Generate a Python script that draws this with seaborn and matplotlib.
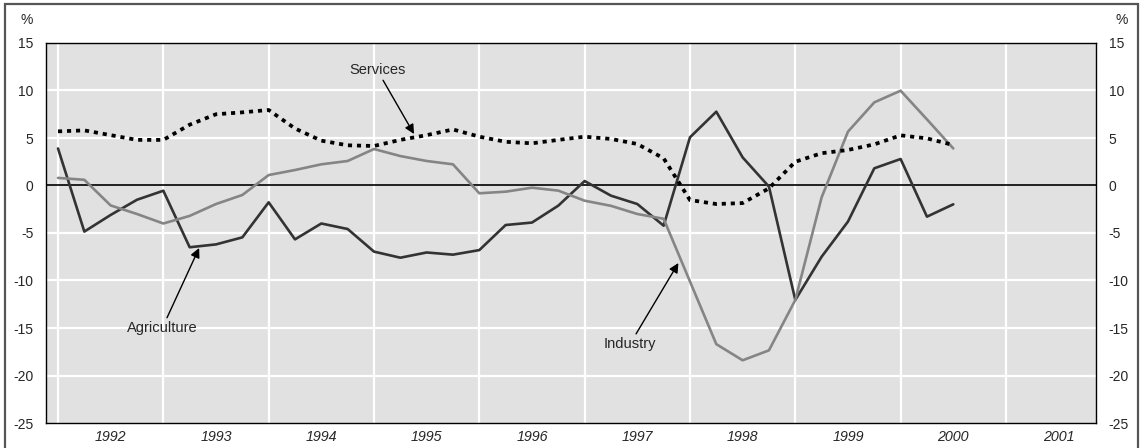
import numpy as np
import pandas as pd
import matplotlib.pyplot as plt
import seaborn as sns
from matplotlib.patches import Rectangle

# quarterly growth, % (1992 Q1 .. 2000 Q3)
start_year = 1992
agriculture = [3.9, -4.85, -3.1, -1.5, -0.55, -6.5, -6.2, -5.46, -1.77, -5.67,
               -4.0, -4.58, -6.96, -7.6, -7.05, -7.28, -6.8, -4.16, -3.9, -2.12,
               0.47, -1.07, -1.95, -4.23, 5.07, 7.77, 2.96, -0.12, -12.05, -7.5,
               -3.8, 1.81, 2.79, -3.28, -1.98]
industry = [0.8, 0.6, -2.1, -3.0, -4.0, -3.2, -1.95, -1.0, 1.1, 1.63,
            2.23, 2.58, 3.84, 3.1, 2.58, 2.23, -0.82, -0.65, -0.23, -0.54,
            -1.6, -2.14, -3.0, -3.5, -10.1, -16.7, -18.4, -17.35, -12.05, -1.25,
            5.67, 8.75, 9.98, 6.96, 3.9]
services = [5.7, 5.8, 5.3, 4.8, 4.8, 6.4, 7.5, 7.7, 7.95, 6.0,
            4.72, 4.23, 4.16, 4.8, 5.3, 5.9, 5.14, 4.6, 4.44, 4.8,
            5.14, 4.9, 4.37, 2.86, -1.53, -1.95, -1.85, -0.3, 2.5, 3.4,
            3.74, 4.33, 5.28, 4.96, 4.26]
years = list(range(1992, 2002))
y_ticks = [15, 10, 5, 0, -5, -10, -15, -20, -25]

n = len(agriculture)
t = start_year + np.arange(n) / 4
df = pd.DataFrame({"t": np.tile(t, 3),
                   "value": agriculture + industry + services,
                   "sector": ["Agriculture"] * n + ["Industry"] * n + ["Services"] * n})

sns.set_style("white", {"axes.facecolor": "#e1e1e1"})
plt.rcParams["font.family"] = ["Liberation Sans", "DejaVu Sans"]

fig = plt.figure(figsize=(11.45, 4.48), dpi=100)
ax = fig.add_axes([46 / 1145, 25 / 448, 1050 / 1145, 380 / 448])

# grid
for yv in y_ticks[1:-1]:
    if yv != 0:
        ax.axhline(yv, color="white", lw=1.6, zorder=1)
for yr in years:
    ax.axvline(yr, color="white", lw=1.6, zorder=1)
ax.axhline(0, color="black", lw=1.2, zorder=2)

pal = {"Agriculture": "#333333", "Industry": "#858585", "Services": "#000000"}
sns.lineplot(data=df[df.sector != "Services"], x="t", y="value", hue="sector",
             palette=pal, lw=1.9, legend=False, ax=ax, zorder=3)
sv = df[df.sector == "Services"]
sns.lineplot(data=sv, x="t", y="value", color="black", lw=2.7,
             linestyle=(0, (1.1, 1.3)), legend=False, ax=ax, zorder=4)

ax.set_xlim(1991.886, 2001.855)
ax.set_ylim(-25, 15)
ax.set_xlabel("")
ax.set_ylabel("")
ax.set_xticks(years)
ax.set_xticklabels([])
ax.set_xticks([y + 0.5 for y in years], minor=True)
ax.set_xticklabels([str(y) for y in years], minor=True, fontsize=10.3, style="italic")
ax.tick_params(axis="x", which="both", length=0, pad=5)
ax.set_yticks(y_ticks)
ax.set_yticklabels([str(v) for v in y_ticks], fontsize=10)
ax.tick_params(axis="y", length=0, pad=9, labelright=True)
for lbl in ax.get_yticklabels(which="major"):
    pass
ax.yaxis.set_tick_params(which="major", pad=9)
for s in ax.spines.values():
    s.set_color("black")
    s.set_linewidth(1.0)

ax.text(-0.018, 1.05, "%", transform=ax.transAxes, fontsize=10, ha="center")
ax.text(1.0245, 1.05, "%", transform=ax.transAxes, fontsize=10, ha="center")

arrow = dict(arrowstyle="-|>", color="black", lw=1.0, mutation_scale=14,
             shrinkA=0, shrinkB=0)
ax.annotate("Services", xy=(1995.38, 5.42), xytext=(1995.03, 12.16),
            fontsize=10.5, ha="center", va="center", arrowprops=arrow, zorder=5)
ax.annotate("Agriculture", xy=(1993.34, -6.58), xytext=(1992.99, -15.0),
            fontsize=10.5, ha="center", va="center", arrowprops=arrow, zorder=5)
ax.annotate("Industry", xy=(1997.89, -8.16), xytext=(1997.43, -16.7),
            fontsize=10.5, ha="center", va="center", arrowprops=arrow, zorder=5)

# outer frame
fig.patches.append(Rectangle((5 / 1145, -0.05), 1133 / 1145, 1.05 - 4 / 448,
                             transform=fig.transFigure, fill=False,
                             edgecolor="#555555", lw=1.6))

fig.savefig("out.png", dpi=100)
